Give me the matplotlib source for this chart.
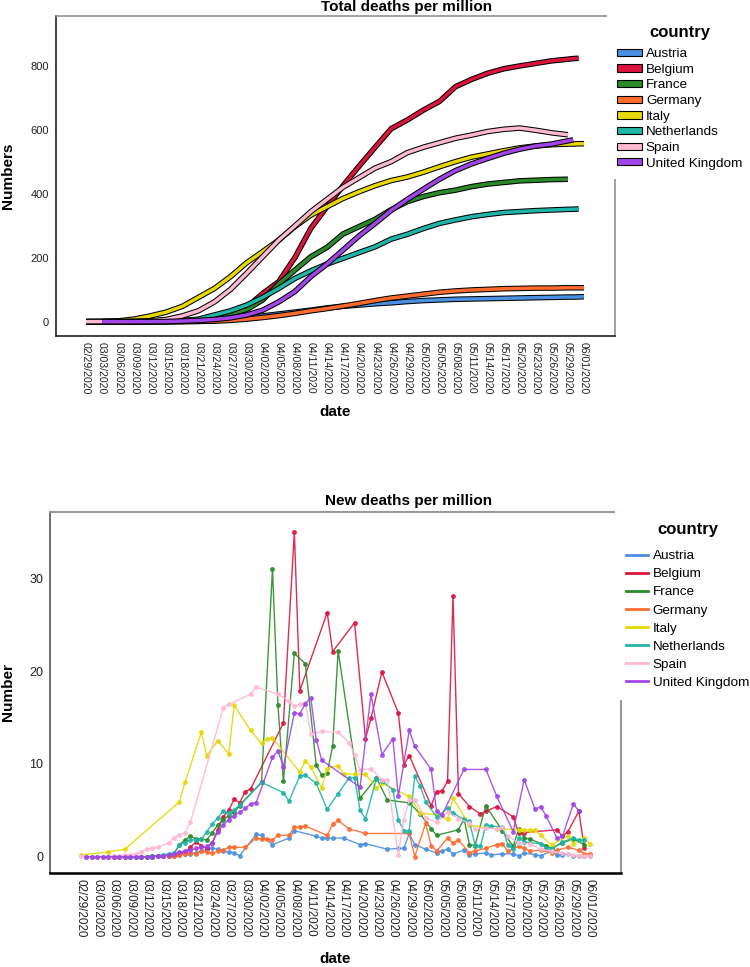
import numpy as np
import matplotlib
matplotlib.use("Agg")
import matplotlib.pyplot as plt
import matplotlib.patheffects as pe
from matplotlib.patches import Patch
from matplotlib.lines import Line2D

plt.rcParams['font.family'] = ['Liberation Sans', 'DejaVu Sans']

nan = np.nan

countries = ["Austria", "Belgium", "France", "Germany", "Italy",
             "Netherlands", "Spain", "United Kingdom"]
colors = ["#4A90E2", "#DC143C", "#2A8A2A", "#FF6B2E", "#E6D800",
          "#1FB5A8", "#FFB8D2", "#A145E8"]

date_labels = ["02/29/2020", "03/03/2020", "03/06/2020", "03/09/2020", "03/12/2020",
               "03/15/2020", "03/18/2020", "03/21/2020", "03/24/2020", "03/27/2020",
               "03/30/2020", "04/02/2020", "04/05/2020", "04/08/2020", "04/11/2020",
               "04/14/2020", "04/17/2020", "04/20/2020", "04/23/2020", "04/26/2020",
               "04/29/2020", "05/02/2020", "05/05/2020", "05/08/2020", "05/11/2020",
               "05/14/2020", "05/17/2020", "05/20/2020", "05/23/2020", "05/26/2020",
               "05/29/2020", "06/01/2020"]
tick_days = [3 * i for i in range(len(date_labels))]  # day index since 02/29

# --- total deaths per million (day index -> value) ---
total_days = [0, 3, 6, 9, 12, 15, 18, 21, 24, 27, 30, 33, 36, 39, 42, 45, 48,
              51, 54, 57, 60, 63, 66, 69, 72, 75, 78, 81, 84, 87, 90, 91, 92, 93]
austria_total = [0, 0, 0, 0, 0.1, 0.3, 0.6, 1, 3, 7, 12, 18, 24, 30, 36, 43, 48,
                 52, 56, 59, 63, 66, 68, 70, 71, 72, 73, 74, 75, 76, 77, 77, 77.5, 78]
belgium_total = [0, 0, 0, 0, 0, 0.2, 1, 4, 10, 25, 45, 88, 125, 200, 292, 359, 425,
                 486, 545, 603, 630, 661, 688, 734, 757, 776, 790, 799, 807, 815, 820, 822, 823, nan]
france_total = [0, 0, 0.2, 0.5, 1, 2, 3.5, 6, 13, 24, 38, 68, 118, 161, 203, 232, 274,
                297, 320, 350, 375, 391, 403, 411, 422, 430, 435, 440, 442, 444, 445, nan, nan, nan]
germany_total = [0, 0, 0, 0, 0, 0.1, 0.4, 1, 2, 4, 8, 13, 19, 26, 34, 41, 49,
                 57, 66, 74, 80, 86, 92, 96, 99, 101, 103, 104, 105, 105, 106, 106, 106, 106]
italy_total = [0.3, 0.9, 2.5, 8, 18, 30, 48, 76, 104, 141, 184, 219, 255, 297, 333, 359, 385,
               406, 425, 441, 452, 467, 484, 500, 514, 524, 534, 543, 549, 553, 555, 555, 556, 556]
netherlands_total = [0, 0, 0, 0, 0.3, 1, 3, 8, 21, 34, 52, 76, 104, 135, 159, 180, 198,
                     216, 234, 258, 273, 291, 307, 318, 328, 335, 341, 344, 347, 349, 351, 351.5, 352, nan]
spain_total = [0.2, 0.3, 0.6, 1.5, 3, 7, 18, 34, 62, 101, 151, 203, 255, 299, 344, 382, 420,
               450, 480, 500, 528, 545, 559, 573, 583, 594, 601, 605, 598, 590, 584, nan, nan, nan]
uk_total = [nan, 0, 0, 0.1, 0.2, 0.5, 2, 4, 7, 12, 21, 36, 62, 94, 141, 180, 224,
            268, 307, 348, 382, 414, 445, 472, 493, 510, 526, 539, 549, 555, 565, 568, nan, nan]

# --- new deaths per million (reported days only) ---
austria_days = [11, 12, 13, 14, 15, 16, 17, 18, 19, 20, 21, 22, 23, 24, 25, 26, 27, 28, 29,
                32, 33, 35, 38, 39, 43, 44, 45, 46, 48, 51, 52, 56, 58, 59, 60, 61, 63,
                65, 66, 67, 68, 70, 71, 72, 74, 75, 77, 79, 80, 81, 83, 84, 86, 87, 88, 89, 90, 91, 92, 93]
austria_new = [0, 0, 0.1, 0.1, 0.1, 0.2, 0.1, 0.2, 0.3, 0.3, 0.4, 0.6, 0.8, 0.9, 0.8, 0.6, 0.5, 0.4, 0.1,
               2.4, 2.3, 1.3, 2.0, 2.8, 2.2, 2.0, 2.0, 2.0, 2.0, 1.3, 1.4, 0.8, 0.9, 0.9, 2.5, 1.3, 0.8,
               0.4, 0.6, 0.8, 0.3, 0.7, 0.2, 0.3, 0.4, 0.2, 0.3, 0.3, 0.1, 0.4, 0.2, 0.1, 0.6, 0.2, 0.2, 0.3, 0.1, 0.1, 0.1, 0.1]

belgium_days = [5, 6, 7, 8, 9, 10, 11, 12, 13, 14, 15, 16, 17, 18, 19,
                20, 21, 22, 23, 24, 25, 26, 27, 28, 29, 30, 31,
                37, 39, 40, 45, 46, 50, 52, 53, 55, 58, 59, 60, 64, 65, 66, 67, 68, 69,
                71, 73, 74, 76, 79, 80, 81, 87, 88, 89, 91, 92]
belgium_new = [0, 0, 0, 0, 0, 0, 0, 0, 0, 0.1, 0.1, 0.1, 0.2, 0.3, 0.5,
               1.0, 1.6, 1.2, 0.9, 1.5, 2.9, 4.3, 5.0, 6.2, 5.8, 7.0, 7.3,
               14.4, 35.0, 17.9, 26.3, 22.1, 25.2, 12.7, 14.9, 19.9, 15.5, 9.9, 10.9, 5.5, 7.0, 7.1, 8.1, 28.1, 6.8,
               5.4, 4.6, 4.9, 5.4, 4.3, 2.5, 2.6, 2.9, 2.2, 2.7, 4.9, 0.9]

france_days = [1, 2, 3, 4, 5, 6, 7, 8, 9, 10, 11, 12, 13, 14, 15, 16, 17,
               18, 19, 20, 21, 22, 23, 24, 25, 26, 27, 28, 29,
               33, 35, 36, 37, 39, 41, 43, 44, 45, 46, 47, 51, 54, 56, 60, 62, 64, 65,
               69, 70, 71, 72, 74, 77, 79, 80, 81, 82, 85, 86, 88, 90, 92]
france_new = [0, 0, 0, 0, 0, 0, 0, 0, 0, 0, 0, 0, 0.1, 0.1, 0.1, 0.2, 0.3,
              1.3, 1.8, 2.2, 1.9, 1.9, 1.8, 2.6, 3.4, 4.0, 4.4, 4.8, 5.5,
              8.0, 31.0, 16.3, 8.1, 21.9, 20.8, 9.9, 8.8, 9.0, 11.9, 22.2, 6.3, 8.5, 6.1, 5.8, 4.6, 3.0, 2.3,
              2.9, 4.1, 1.3, 1.2, 5.5, 2.8, 1.1, 3.0, 2.0, 1.9, 1.2, 0.9, 1.5, 1.9, 1.3]

germany_days = [4, 5, 6, 7, 8, 9, 10, 11, 12, 13, 14, 15, 16, 17, 18, 19, 20, 21,
                22, 23, 24, 25, 26, 27, 28, 30, 32, 33, 34, 35, 36, 38, 39, 40, 41,
                45, 46, 47, 49, 52, 60, 61, 63, 64, 65, 67, 68, 69,
                71, 72, 74, 76, 77, 78, 80, 81, 82, 84, 86, 87, 89, 91, 92, 93]
germany_new = [0, 0, 0, 0, 0, 0, 0, 0, 0, 0, 0.1, 0.1, 0.1, 0.1, 0.2, 0.3, 0.4, 0.3,
               0.6, 0.5, 0.4, 0.6, 0.7, 1.0, 1.0, 1.0, 2.0, 1.9, 1.9, 1.8, 2.3, 2.3, 3.2, 3.2, 3.3,
               2.3, 3.5, 3.9, 3.0, 2.5, 2.5, 0.0, 3.6, 1.2, 0.6, 2.0, 1.5, 1.8,
               0.4, 0.6, 0.9, 1.3, 1.4, 0.6, 1.1, 0.9, 0.6, 0.7, 0.4, 0.7, 1.0, 0.7, 0.3, 0.3]

italy_days = [0, 5, 8, 18, 19, 22, 23, 25, 27, 28, 31, 33, 34, 35, 40, 41, 42, 44, 45, 47,
              48, 50, 52, 54, 55, 60, 62, 65, 67, 68, 71, 76, 80, 81, 82, 83, 84, 86, 89, 90, 92, 93]
italy_new = [0.2, 0.5, 0.8, 5.9, 8.0, 13.4, 10.9, 12.5, 11.1, 16.3, 13.6, 12.2, 12.7, 12.8, 9.1, 10.3, 9.7, 7.4, 9.5, 9.8,
             8.9, 8.9, 8.9, 7.4, 7.9, 6.5, 4.7, 4.5, 4.1, 6.3, 3.4, 3.0, 2.9, 2.9, 2.9, 2.9, 2.3, 1.3, 2.2, 1.4, 2.0, 1.4]

netherlands_days = [8, 9, 10, 11, 12, 13, 14, 15, 16, 17, 18, 19, 20, 21, 22, 23, 24, 25, 26, 27, 28, 29,
                    33, 37, 38, 40, 41, 43, 45, 47, 49, 50, 51, 52, 54, 55, 57, 58, 59, 60, 61, 62,
                    63, 65, 67, 68, 70, 71, 72, 73, 74, 75, 77, 78, 79, 80, 81, 82, 84, 85, 86, 88, 90, 91, 92]
netherlands_new = [0, 0, 0, 0, 0, 0, 0.1, 0.2, 0.3, 0.4, 1.3, 1.5, 1.8, 1.8, 1.9, 2.7, 3.5, 4.2, 4.9, 4.7, 5.0, 5.6,
                   8.0, 6.9, 6.0, 8.7, 8.8, 7.9, 5.1, 6.8, 8.5, 8.5, 5.0, 4.1, 8.4, 8.2, 7.2, 4.0, 2.8, 2.8, 8.7, 7.6,
                   5.9, 4.3, 5.2, 4.7, 4.0, 3.8, 1.3, 1.1, 3.4, 3.3, 3.2, 1.3, 0.8, 2.0, 1.6, 1.5, 1.4, 0.9, 0.8, 1.6, 2.0, 1.8, 1.8]

spain_days = [0, 1, 2, 3, 4, 5, 6, 7, 8, 9, 10, 11, 12, 13, 14, 16, 17, 18, 19, 20, 26, 27, 31, 32, 36,
              38, 39, 40, 41, 42, 44, 47, 49, 50, 51, 53, 55, 56, 58, 59, 60, 61, 63, 65, 67,
              69, 71, 72, 74, 76, 77, 78, 80, 82, 84, 86, 88, 89, 90, 91, 92, 93]
spain_new = [0.1, 0, 0, 0, 0, 0, 0.1, 0.1, 0.2, 0.2, 0.3, 0.5, 0.8, 0.9, 1.0, 1.5, 2.0, 2.3, 2.6, 3.7, 16.0, 16.4, 17.5, 18.3, 17.5,
             16.8, 16.2, 16.4, 16.6, 13.2, 13.5, 13.4, 12.3, 11.0, 9.3, 9.5, 8.3, 8.3, 0.2, 4.0, 6.1, 6.1, 4.2, 3.7, 4.8,
             4.1, 3.6, 3.0, 3.1, 3.0, 3.2, 2.2, 1.5, 1.4, 0.8, 0.6, 0.4, 0.3, 0.2, 0.1, 0.1, 0.1]

uk_days = [1, 2, 3, 4, 5, 6, 7, 8, 9, 10, 11, 12, 13, 14, 15, 16, 17, 18, 19, 20, 21, 22, 23, 24, 25, 26,
           27, 28, 29, 30, 31, 32, 35, 36, 37, 39, 40, 41, 42, 43, 44,
           51, 53, 55, 57, 58, 60, 61, 64, 65, 66, 70, 74, 76, 79, 81, 83, 84, 85, 87, 88, 90, 91]
uk_new = [0, 0, 0, 0, 0, 0, 0, 0, 0, 0, 0, 0, 0, 0.1, 0.1, 0.2, 0.3, 0.5, 0.6, 0.7, 0.9, 1.0, 1.1, 1.5, 2.7, 3.4,
          4.0, 4.4, 4.8, 5.2, 5.7, 5.8, 10.7, 11.4, 9.7, 15.5, 15.4, 16.5, 17.1, 12.6, 10.4,
          7.5, 17.5, 11.0, 12.7, 6.5, 13.6, 11.9, 9.4, 4.9, 4.5, 9.4, 9.4, 6.5, 2.7, 8.3, 5.1, 5.4, 4.4, 2.0, 2.2, 5.7, 4.9]

total_series = [austria_total, belgium_total, france_total, germany_total,
                italy_total, netherlands_total, spain_total, uk_total]
new_series = [(austria_days, austria_new), (belgium_days, belgium_new), (france_days, france_new),
              (germany_days, germany_new), (italy_days, italy_new), (netherlands_days, netherlands_new),
              (spain_days, spain_new), (uk_days, uk_new)]

W, H = 750, 967
fig = plt.figure(figsize=(W / 100, H / 100), dpi=100)


def px_axes(left, top, right, bottom):
    return fig.add_axes([left / W, 1 - bottom / H, (right - left) / W, (bottom - top) / H])


def style_dates(ax, fs):
    ax.set_xticks(tick_days)
    ax.set_xticklabels(date_labels, rotation=270, fontsize=fs, color="#222222")
    ax.tick_params(axis="both", length=0)
    ax.tick_params(axis="x", pad=4)
    ax.tick_params(axis="y", pad=5)


# ---------------- top: total deaths ----------------
ax1 = px_axes(55.7, 16, 614.5, 336)
for col, vals in zip(colors, total_series):
    ax1.plot(total_days, vals, color=col, lw=2.5, solid_capstyle="butt", solid_joinstyle="round",
             path_effects=[pe.Stroke(linewidth=4.0, foreground="black"), pe.Normal()])
ax1.set_xlim(-5.66, 98.7)
ax1.set_ylim(-44.7, 955)
ax1.set_yticks([0, 200, 400, 600, 800])
ax1.tick_params(axis="y", labelsize=8, labelcolor="#222222")
style_dates(ax1, 7.6)
for side in ("left", "bottom"):
    ax1.spines[side].set_color("#111111")
    ax1.spines[side].set_linewidth(1.1)
for side in ("top", "right"):
    ax1.spines[side].set_color("#888888")
    ax1.spines[side].set_linewidth(1.1)
ax1.set_ylabel("Numbers", fontsize=11, fontweight="bold")
ax1.yaxis.set_label_coords(-0.0723, 0.5)
ax1.set_xlabel("date", fontsize=11, fontweight="bold")
ax1.xaxis.set_label_coords(0.5, -0.2156)
fig.text(407 / W, 1 - 7 / H, "Total deaths per million", ha="center", va="center",
         fontsize=11, fontweight="bold")

h1 = [Patch(facecolor=c, edgecolor="black", linewidth=0.8) for c in colors]
leg1 = fig.legend(h1, countries, loc="upper left", bbox_to_anchor=(607 / W, 1 - 15 / H),
                  frameon=True, facecolor="white", edgecolor="none", framealpha=1, fancybox=False,
                  title="country", title_fontproperties={"weight": "bold", "size": 12},
                  fontsize=9.7, handlelength=1.9, handleheight=0.45, handletextpad=0.27,
                  labelspacing=0.27, borderpad=0.72, borderaxespad=0)
leg1._legend_box.sep = 6.1

# ---------------- bottom: new deaths ----------------
ax2 = px_axes(50, 512, 621, 873)
for col, (d, v) in zip(colors, new_series):
    ax2.plot(d, v, color=col, lw=1.0, alpha=0.9, marker="o", ms=2.8,
             mfc=col, mec=col, mew=0.6)
ax2.set_xlim(-5.66, 98.7)
ax2.set_ylim(-1.76, 37.14)
ax2.set_yticks([0, 10, 20, 30])
ax2.tick_params(axis="y", labelsize=9, labelcolor="#222222")
style_dates(ax2, 8.4)
ax2.spines["bottom"].set_color("black")
ax2.spines["bottom"].set_linewidth(1.8)
ax2.spines["left"].set_color("#555555")
ax2.spines["left"].set_linewidth(1.2)
for side in ("top", "right"):
    ax2.spines[side].set_color("#999999")
    ax2.spines[side].set_linewidth(1.5)
ax2.set_ylabel("Number", fontsize=11, fontweight="bold")
ax2.yaxis.set_label_coords(-0.0613, 0.5)
ax2.set_xlabel("date", fontsize=11, fontweight="bold")
ax2.xaxis.set_label_coords(0.5, -0.219)
fig.text(409 / W, 1 - 501 / H, "New deaths per million", ha="center", va="center",
         fontsize=11, fontweight="bold")

h2 = [Line2D([], [], color=c, lw=2.0) for c in colors]
leg2 = fig.legend(h2, countries, loc="upper left", bbox_to_anchor=(615 / W, 1 - 511 / H),
                  frameon=True, facecolor="white", edgecolor="none", framealpha=1, fancybox=False,
                  title="country", title_fontproperties={"weight": "bold", "size": 12},
                  fontsize=9.7, handlelength=1.63, handletextpad=0.37,
                  labelspacing=0.42, borderpad=0.81, borderaxespad=0)
leg2._legend_box.sep = 9.3

fig.savefig("out.png", dpi=100)
